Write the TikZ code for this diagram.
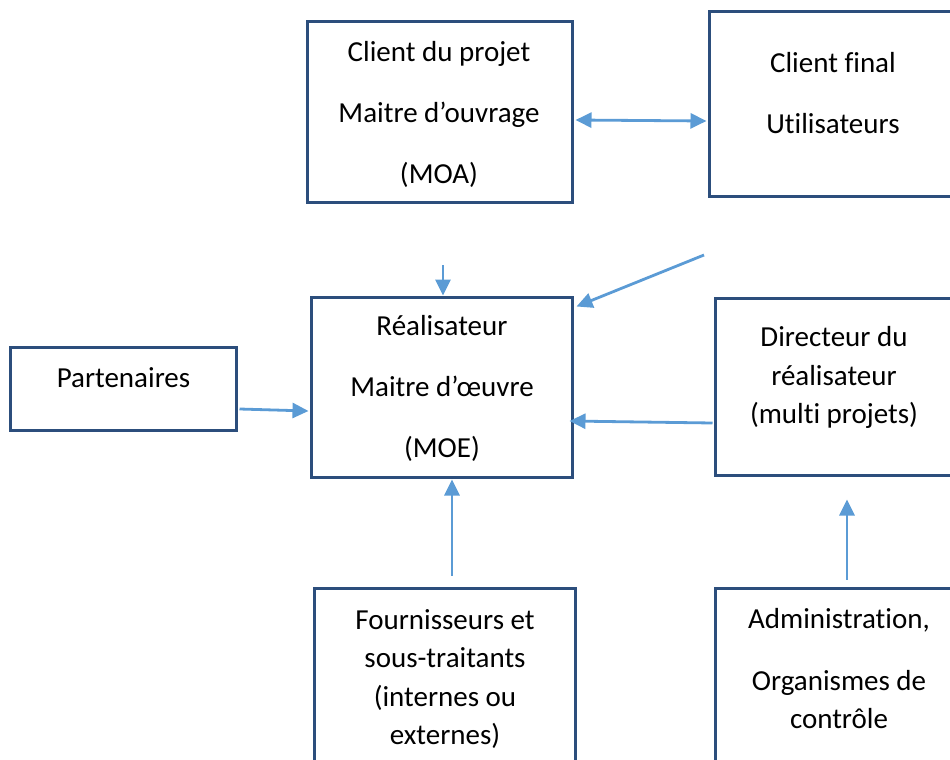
\documentclass[tikz,border=0pt]{standalone}
\usepackage{fontspec}
\setmainfont{Carlito}[Ligatures=NoCommon]
\usetikzlibrary{arrows.meta,calc}
\definecolor{boxblue}{RGB}{44,78,124}
\definecolor{arrblue}{RGB}{91,155,213}
\begin{document}
\begin{tikzpicture}[x=1pt,y=-1pt,
  box/.style={draw=boxblue,line width=3pt,fill=none,inner sep=0pt},
  txt/.style={font=\fontsize{29}{38.5}\selectfont,align=center,inner sep=0pt},
  conn/.style={draw=arrblue,line width=2.8pt,-{Triangle[length=16pt,width=15pt]}},
  dconn/.style={draw=arrblue,line width=2.8pt,{Triangle[length=16pt,width=15pt]}-{Triangle[length=16pt,width=15pt]}}]
\useasboundingbox (0,0) rectangle (950,760);
\clip (0,0) rectangle (950,760);
% boxes
\node[box,minimum width=265pt,minimum height=180pt] (A) at (439.5,112) {};
\node[box,minimum width=266pt,minimum height=184pt] (B) at (842,104) {};
\node[box,minimum width=261pt,minimum height=180pt] (C) at (441.5,387) {};
\node[box,minimum width=226pt,minimum height=83pt] (D) at (123,388.5) {};
\node[box,minimum width=260pt,minimum height=177pt] (E) at (845,386.5) {};
\node[box,minimum width=261pt,minimum height=182pt] (F) at (444.5,679) {};
\node[box,minimum width=260pt,minimum height=182pt] (G) at (845,679) {};
% texts
\node[txt] (tA) at (439,115) {\strut Client du projet\\[22.5pt]\strut Maitre d’ouvrage\\[22.5pt]\strut (MOA)};
\node[txt] (tB) at (833,95.5) {\strut Client final\\[22.5pt]\strut Utilisateurs};
\node[txt] (tC) at (442,389) {\strut Réalisateur\\[22.5pt]\strut Maitre d’œuvre\\[22.5pt]\strut (MOE)};
\node[txt] (tD) at (123.5,380) {\strut Partenaires};
\node[txt] (tE) at (834,377.5) {\strut Directeur du\\\strut réalisateur\\\strut (multi projets)};
\node[txt] (tF) at (445,679.5) {\strut Fournisseurs et\\\strut sous-traitants\\\strut (internes ou\\\strut externes)};
\node[txt] (tG) at (839,671) {\strut Administration,\\[23pt]\strut Organismes de\\\strut contrôle};
% free ends
\coordinate (c1) at (443,265);
\coordinate (c2) at (704,255);
% connectors
\draw[dconn] ($(A.east)+(2,8)$) -- ($(B.west)+(-1,17)$);
\draw[conn] (c1) -- ($(C.north)+(1.5,0)$);
\draw[conn] (c2) -- ($(C.north east)+(3,11)$);
\draw[conn] ($(D.east)+(2,20.5)$) -- ($(C.west)+(-1,24)$);
\draw[conn] ($(E.west)+(-1,36.5)$) -- ($(C.east)+(-4,34)$);
\draw[conn] ($(F.north)+(7.5,-11)$) -- ($(C.south)+(10.5,1)$);
\draw[conn] ($(G.north)+(2,-7)$) -- ($(E.south)+(2,23)$);
\end{tikzpicture}
\end{document}
